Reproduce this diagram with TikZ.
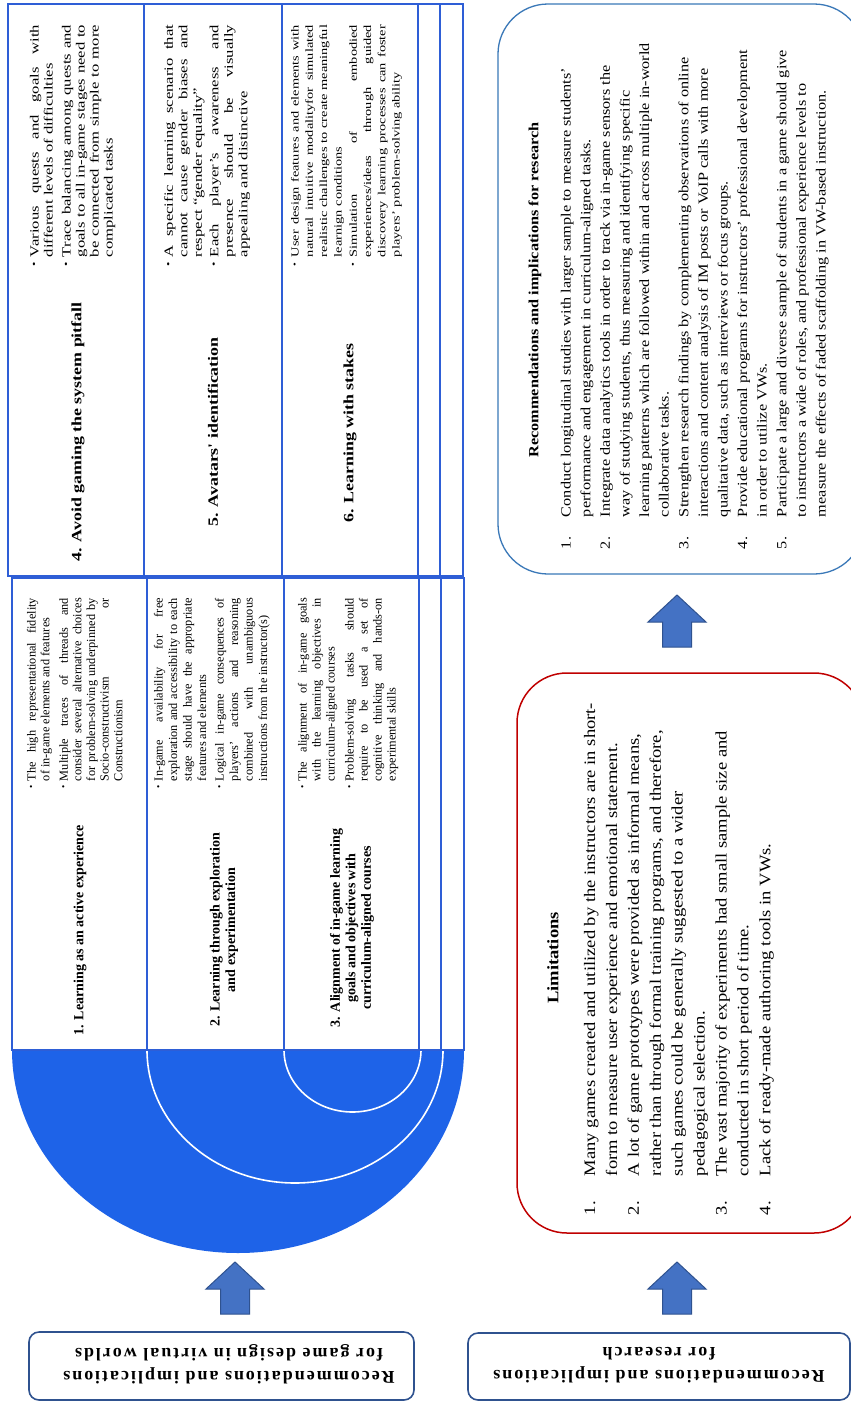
\documentclass[tikz,border=0pt]{standalone}
\usepackage{fontspec}
\usepackage{graphicx}
\setmainfont{Liberation Serif}
\newfontfamily\LTf{Liberation Serif}[FakeStretch=1.0]
\newfontfamily\UTf{Liberation Serif}[FakeStretch=1.33]
\newfontfamily\UTTf{Liberation Serif}[FakeStretch=1.26]
\newfontfamily\RBf{Liberation Serif}[FakeStretch=1.16]
\newfontfamily\BBf{Liberation Serif}[LetterSpace=11]
\definecolor{tblue}{HTML}{2E5ED6}
\definecolor{semblue}{HTML}{1E63E8}
\definecolor{arrfill}{HTML}{4472C4}
\definecolor{arrline}{HTML}{2F528F}
\definecolor{resblue}{HTML}{3A78B8}
\definecolor{limred}{HTML}{C00000}
\newlength\bulind
\newlength\numind
\newcommand\bsym{\raisebox{.25ex}{\scalebox{.75}{\textbullet}}}
\newcommand\Bj[1]{\hbox to\hsize{\hbox to\bulind{\bsym\hss}#1}}
\newcommand\Cj[1]{\hbox to\hsize{\hskip\bulind\relax #1}}
\newcommand\Cn[1]{\hbox{\hskip\bulind\relax #1}}
\newcommand\Ni[2]{\hbox{\hbox to\numind{#1\hss}#2}}
\newcommand\Nc[1]{\hbox{\hskip\numind\relax #1}}
\newcommand\UTtitle{\UTTf\bfseries\fontsize{14.2}{15.5}\selectfont}
\newcommand\LTtitle{\LTf\bfseries\fontsize{14}{15.5}\selectfont}
\newcommand\uparr[3]{\draw[barrow] (#1,#2) -- (#1+29,#2+27) -- (#1+14.5,#2+27) -- (#1+14.5,#3) -- (#1-14.5,#3) -- (#1-14.5,#2+27) -- (#1-29,#2+27) -- cycle;}
\begin{document}
\begin{tikzpicture}[x=1pt,y=-1pt,
  tbl/.style={draw=tblue,line width=1.2pt},
  body/.style={rotate=90,inner sep=0pt,outer sep=0pt,anchor=north west},
  ttl/.style={rotate=90,inner sep=0pt,align=center},
  barrow/.style={fill=arrfill,draw=arrline,line width=1pt,line join=miter},
  bbox/.style={draw=arrline,line width=1.6pt,rounded corners=10pt},
  btxt/.style={rotate=180,align=center,inner sep=0pt,font=\BBf\bfseries\fontsize{18}{23}\selectfont}]
\fill[white] (0,0) rectangle (851,1401);
\useasboundingbox (0,0) rectangle (851,1401);
% half discs
\begin{scope}
\clip (0,1050) rectangle (851,1401);
\fill[semblue] (238,1050) ellipse [x radius=226,y radius=203];
\draw[white,line width=1.6pt] (295,1050) ellipse [x radius=148,y radius=133];
\draw[white,line width=1.6pt] (352.5,1050) ellipse [x radius=68.5,y radius=62];
\end{scope}
% tables
\foreach \a/\b in {8/144,144/282,282/418,418/440,440/463} \draw[tbl] (\a,4) rectangle (\b,576);
\foreach \a/\b in {12/147,147/284,284/419,419/441,441/464} \draw[tbl] (\a,578) rectangle (\b,1050);
% upper table titles
\node[ttl,font=\UTtitle] (t4) at (78,432) {4. Avoid gaming the system pitfall};
\node[ttl,font=\UTtitle] (t5) at (213,432) {5. Avatars' identification};
\node[ttl,font=\UTtitle] (t6) at (350,433) {6. Learning with stakes};
% lower table titles
\node[ttl,font=\LTtitle] (t1) at (80,930) {1. Learning as an active experience};
\node[ttl,font=\LTtitle] (t2) at (224,930) {2. Learning through exploration\\and experimentation};
\node[ttl,font=\LTtitle] (t3) at (352,928) {3. Alignment of in-game learning\\goals and objectives with\\curriculum-aligned courses};
% upper bodies
\node[body] (b4) at (30,266) {\vbox{\hsize=241pt\UTf\fontsize{12.5}{14}\selectfont\bulind=9pt
\Bj{Various quests and goals with}
\Cn{different levels of difficulties}
\vskip4pt
\Bj{Trace balancing among quests and}
\Cj{goals to all in-game stages need to}
\Cj{be connected from simple to more}
\Cn{complicated tasks}}};
\node[body] (b5) at (164,266) {\vbox{\hsize=241pt\UTf\fontsize{12.5}{14.5}\selectfont\bulind=9pt
\Bj{A specific learning scenario that}
\Cj{cannot cause gender biases and}
\Cn{respect “gender equality”}
\vskip2pt
\Bj{Each player’s awareness and}
\Cj{presence should be visually}
\Cn{appealing and distinctive}}};
\node[body] (b6) at (291,266) {\vbox{\hsize=241pt\UTf\fontsize{10.8}{14.3}\selectfont\bulind=9pt
\Bj{User design features and elements with}
\Cj{natural intuitive modalityfor simulated}
\Cj{realistic challenges to create meaningful}
\Cn{learnign conditions}
\vskip1pt
\Bj{Simulation of embodied}
\Cj{experiences/ideas through guided}
\Cj{discovery learning processes can foster}
\Cn{players’ problem-solving ability}}};
% lower bodies
\node[body] (b1) at (27,788) {\vbox{\hsize=190pt\LTf\fontsize{12.3}{13.6}\selectfont\bulind=7pt
\Bj{The high representational fidelity}
\Cn{of in-game elements and features}
\vskip5pt
\Bj{Multiple traces of threads and}
\Cj{consider several alternative choices}
\Cj{for problem-solving underpinned by}
\Cj{Socio-constructivism or}
\Cn{Constructionism}}};
\node[body] (b2) at (154,788) {\vbox{\hsize=190pt\LTf\fontsize{12.3}{14.5}\selectfont\bulind=7pt
\Bj{In-game availability for free}
\Cj{exploration and accessibility to each}
\Cj{stage should have the appropriate}
\Cn{features and elements}
\vskip3pt
\Bj{Logical in-game consequences of}
\Cj{players’ actions and reasoning}
\Cj{combined with unambiguous}
\Cn{instructions from the instructor(s)}}};
\node[body] (b3) at (298,788) {\vbox{\hsize=190pt\LTf\fontsize{12.3}{14}\selectfont\bulind=7pt
\Bj{The alignment of in-game goals}
\Cj{with the learning objectives in}
\Cn{curriculum-aligned courses}
\vskip5pt
\Bj{Problem-solving tasks should}
\Cj{require to be used a set of}
\Cj{cognitive thinking and hands-on}
\Cn{experimental skills}}};
% research box
\draw[resblue,line width=1.3pt,rounded corners=50pt] (498,4) rectangle (864,574);
\node[ttl,font=\RBf\bfseries\fontsize{14}{16}\selectfont] (rt) at (535,290) {Recommendations and implications for research};
\node[body] (rl) at (561,549) {\vbox{\RBf\fontsize{14}{19.6}\selectfont\numind=32pt
\Ni{1.}{Conduct longitudinal studies with larger sample to measure students’}
\Nc{performance and engagement in curriculum-aligned tasks.}
\Ni{2.}{Integrate data analytics tools in order to track via in-game sensors the}
\Nc{way of studying students, thus measuring and identifying specific}
\Nc{learning patterns which are followed within and across multiple in-world}
\Nc{collaborative tasks.}
\Ni{3.}{Strengthen research findings by complementing observations of online}
\Nc{interactions and content analysis of IM posts or VoIP calls with more}
\Nc{qualitative data, such as interviews or focus groups.}
\Ni{4.}{Provide educational programs for instructors’ professional development}
\Nc{in order to utilize VWs.}
\Ni{5.}{Participate a large and diverse sample of students in a game should give}
\Nc{to instructors a wide of roles, and professional experience levels to}
\Nc{measure the effects of faded scaffolding in VW-based instruction.}}};
% limitations box
\draw[limred,line width=1.5pt,rounded corners=50pt] (517,673) rectangle (864,1233);
\node[ttl,font=\RBf\bfseries\fontsize{16}{18}\selectfont] (lt) at (553,958) {Limitations};
\node[body] (ll) at (584,1215) {\vbox{\RBf\fontsize{16}{21.9}\selectfont\numind=39pt
\Ni{1.}{Many games created and utilized by the instructors are in short-}
\Nc{form to measure user experience and emotional statement.}
\Ni{2.}{A lot of game prototypes were provided as informal means,}
\Nc{rather than through formal training programs, and therefore,}
\Nc{such games could be generally suggested to a wider}
\Nc{pedagogical selection.}
\Ni{3.}{The vast majority of experiments had small sample size and}
\Nc{conducted in short period of time.}
\Ni{4.}{Lack of ready-made authoring tools in VWs.}}};
% arrows
\uparr{235}{1262}{1314}
\uparr{677}{1262}{1314}
\uparr{677}{595}{647}
% bottom boxes
\draw[bbox] (29,1332) rectangle (414,1400);
\node[btxt] (bl) at (229,1364) {Recommendations and implications\\for game design in virtual worlds};
\draw[bbox] (468,1333) rectangle (850,1400);
\node[btxt] (br) at (659,1365) {Recommendations and implications\\for research};
\end{tikzpicture}
\end{document}
